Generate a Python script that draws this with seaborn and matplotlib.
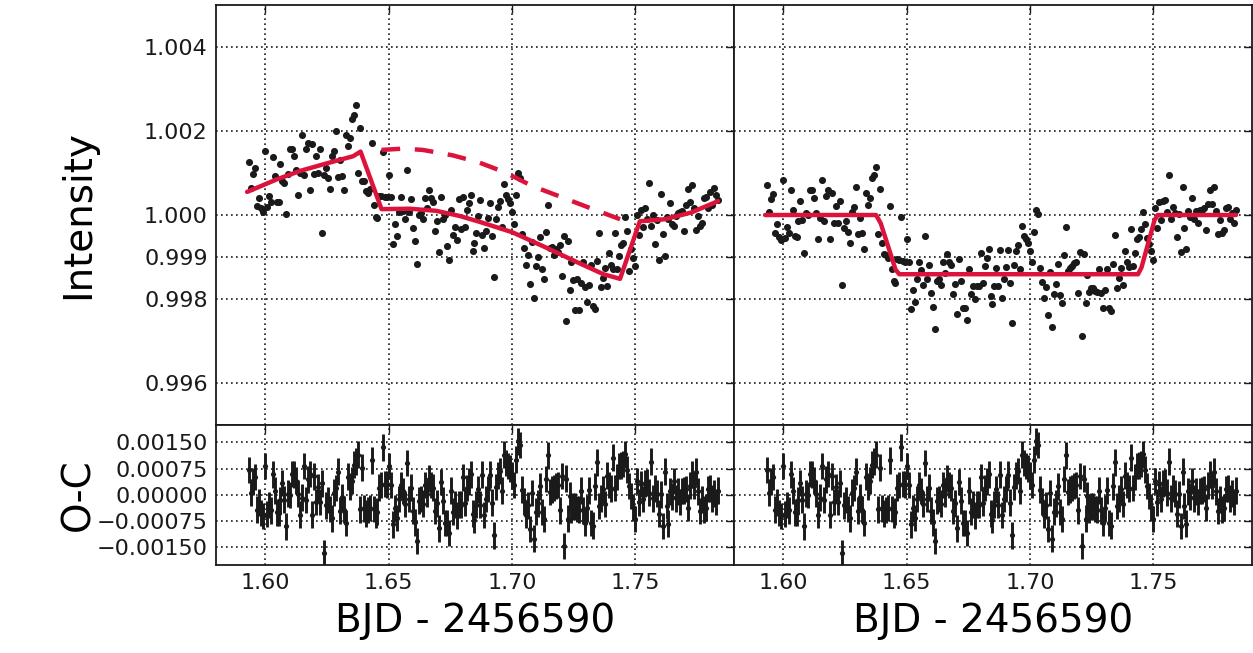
import numpy as np
import pandas as pd
import matplotlib
matplotlib.use("Agg")
import matplotlib.pyplot as plt
from matplotlib.ticker import FuncFormatter
import seaborn as sns

# --- data (flux and residuals in parts per thousand) ---
T_START = 1.5933
T_END = 1.7835

LEFT_FLUX_PPT = [
    1.26, 0.64, 0.97, 1.11, 0.21, 0.41, 0.16, 0.08, 1.53, 0.18,
    0.45, 0.32, 1.37, 0.92, 0.31, 0.30, 1.21, 0.80, 0.77, 0.02,
    0.98, 1.56, 1.56, 1.41, 1.06, 0.48, 0.99, 1.90, 0.96, 1.56,
    1.72, 0.60, 1.70, 0.98, 1.41, 1.01, 1.56, -0.44, 0.95, 1.12,
    0.87, 0.63, 1.40, 1.52, 2.01, 0.90, 1.30, 0.94, 0.60, 1.90,
    1.65, 1.83, 2.29, 2.39, 2.62, 1.01, 2.08, 0.80,
    0.81, 0.57, 0.53, 0.62, 1.72, 0.23, -0.04, -0.06, 0.45, 0.45,
    1.50, 0.44, 0.44, 0.96, 0.44, -0.69, -0.22, -0.50, 0.06, 0.44,
    0.10, -0.10, 1.08, 0.06, 0.37, -0.30, -0.63, -1.16, 0.00, 0.04,
    -0.10, 0.40, 0.16, 0.60, 0.40, 0.32, -0.37, -0.15, -0.87, 0.42,
    -0.09, 0.00, -0.74, -1.06, 0.13, -0.48, -0.29, -0.60, 0.37, -0.33,
    0.44, -0.29, 0.12, 0.29, 0.48, -0.86, -0.67, -0.44, -0.02, 0.36,
    -0.47,
    -0.79, -0.37, -0.08, 0.29, -0.51, -1.47, -0.10, 0.20, 0.33, -0.28,
    0.73, 0.48, 0.39, 0.28, 0.06, -0.22, 0.48, 0.99, 0.87, -0.46,
    -0.79, -1.20, -0.95, -1.65, -0.64, -1.98, -1.22, -1.00, -0.53, -1.29,
    -1.53, -0.40, 0.25, -0.78, -0.75, -0.96, -0.82, -0.88, -0.72, -1.45,
    -0.51, -2.52, -0.63, -1.79, -1.11, -1.55, -2.27, -1.52, -2.26, -1.61,
    -1.12, -1.71, -2.07, -1.67, -1.18, -2.17, -2.23, -1.10, -0.44, -1.71,
    -1.49, -1.25, -1.69, -0.91, -1.19, -1.29, -0.42, -1.29, -0.98, -0.72,
    -0.66, -0.05, -0.37, -1.33, -0.80, -1.03, -1.21, 0.00, -0.47, 0.13,
    -0.28, 0.17, -0.09, 0.77, -0.27, 0.00, -0.70, -0.12, -1.06, 0.51,
    -0.46, -0.98, -0.04, -0.10, 0.29, -0.22, -0.26, -0.02, 0.04, 0.08,
    0.10, -0.38, 0.25, 0.63, 0.31, 0.71, 0.17, -0.35, -0.02, -0.26,
    -0.20, 0.40, 0.43, 0.17, 0.55, 0.25, 0.65, 0.48, 0.35,
]

RIGHT_FLUX_PPT = [
    0.71, 0.07, 0.39, 0.51, -0.42, -0.22, -0.52, -0.60, 0.83, -0.54,
    -0.29, -0.44, 0.59, 0.12, -0.50, -0.52, -0.15, 0.34, -0.13, -0.90,
    0.04, 0.00, 0.60, 0.59, 0.41, 0.04, -0.56, -0.08, 0.83, -0.14,
    0.45, 0.60, -0.56, 0.53, -0.20, 0.22, -0.20, 0.33, -1.67, -0.30,
    -0.14, -0.40, -0.67, 0.07, 0.20, 0.67, -0.45, -0.06, -0.42, -0.80,
    0.52, 0.24, 0.41, 0.87, 0.95, 1.15,
    -0.46, 0.61, -0.67, -0.94, -0.96, -1.02, 0.22, -1.29, -1.57, -1.61,
    -1.04, -1.08, -0.05, -1.10, -1.11, -0.58, -1.12, -2.25, -1.79, -2.07,
    -1.52, -1.13, -1.30, -1.67, -0.50, -1.52, -1.20, -1.86, -2.19, -2.72,
    -1.57, -1.52, -1.66, -1.13, -1.37, -0.94, -1.12, -1.20, -1.87, -1.65,
    -2.36, -1.04, -1.57, -2.21, -2.21, -2.50, -1.29, -1.89, -1.69, -1.99,
    -1.69, -1.69, -0.91, -1.63, -1.21, -1.02, -0.82, -1.94, -2.13, -1.69,
    -1.25, -1.69, -0.83, -1.98, -1.53, -1.24, -0.83, -1.63, -2.56, -1.18,
    -0.86, -0.72, -1.29, -0.26, -0.50, -0.58, -0.66, -0.86, -1.12, -0.40,
    0.12, 0.02, -1.26, -1.59, -1.97, -1.71, -2.38, -1.35, -2.66, -1.89,
    -1.65, -1.16, -1.90, -2.10, -0.95, -0.28,
    -1.33, -1.25, -1.21, -1.15, -1.12, -1.85, -0.87, -2.87, -0.94, -2.09,
    -1.43, -1.83, -1.74, -1.74, -1.81, -1.83, -1.29, -1.85, -2.21, -1.79,
    -1.28, -2.21, -2.29, -1.16, -0.48, -1.73, -1.51, -1.25, -1.67, -0.86,
    -1.13, -1.23, -0.34, -1.21, -0.90, -0.58, -0.52, -0.34, 0.08, -0.22,
    -0.54, -0.68, -0.86, -1.06, 0.17, -0.30, 0.31, -0.11, 0.33, 0.36,
    0.07, 0.95, -0.10, 0.18, 0.04, -0.53, 0.02, -0.89, 0.67, -0.31,
    -0.82, 0.10, -0.05, 0.40, -0.10, 0.10, -0.20, 0.11, 0.13, 0.17,
    -0.36, 0.27, 0.59, 0.27, 0.67, 0.10, -0.46, -0.13, -0.42, -0.36,
    0.17, 0.19, -0.10, 0.05, -0.20, 0.12,
]

RESID_PPT = [
    0.71, 0.07, 0.39, 0.51, -0.42, -0.22, -0.52, -0.60, 0.83, -0.54,
    -0.29, -0.44, 0.59, 0.12, -0.50, -0.52, -0.15, 0.34, -0.13, -0.90,
    0.04, 0.00, 0.60, 0.59, 0.41, 0.04, -0.56, -0.08, 0.83, -0.14,
    0.45, 0.60, -0.56, 0.53, -0.20, 0.22, -0.20, 0.33, -1.67, -0.30,
    -0.14, -0.40, -0.67, 0.07, 0.20, 0.67, -0.45, -0.06, -0.42, -0.80,
    0.52, 0.24, 0.41, 0.87, 0.95, 1.15,
    -0.41, 0.78, -0.38, -0.53, -0.43, -0.37, 0.99, -0.40, -0.56, -0.48,
    0.21, 0.29,
    1.36, 0.31, 0.30, 0.83, 0.29, -0.84, -0.38, -0.66, -0.11, 0.28,
    0.11, -0.26, 0.91, -0.11, 0.21, -0.45, -0.78, -1.31, -0.16, -0.11,
    -0.25, 0.28, 0.04, 0.47, 0.29, 0.21, -0.46, -0.24, -0.95, 0.37,
    -0.16, -0.80, -0.80, -1.09, 0.12, -0.48, -0.28, -0.58, -0.28, -0.28,
    0.50, -0.22, 0.20, 0.39, 0.59, -0.53, -0.72, -0.28, 0.16, -0.28,
    0.58, -0.57, -0.12, 0.17, 0.58, -0.22, -1.15, 0.23, 0.55, 0.69,
    0.12, 1.15, 0.91, 0.83, 0.75, 0.55, 0.29, 1.01, 1.53, 1.43,
    0.15, -0.18, -0.56, -0.30, -0.97, 0.06, -1.25, -0.48, -0.24, 0.25,
    -0.49, -0.69, 0.46, 1.13, 0.08, 0.16, 0.20, 0.26, 0.29, -0.44,
    0.54, -1.46, 0.47, -0.68, -0.02, -0.42, -0.33, -0.33, -0.40, -0.42,
    0.12, -0.44, -0.80, -0.38, 0.13, -0.80, -0.88, 0.25, 0.93, -0.32,
    -0.10, 0.16, -0.26, 0.55, 0.28, 0.18, 1.07, 0.20, 0.51, 0.83,
    0.85, 0.88, 1.16, 0.72, 0.26, -0.03, -0.35, -0.69, 0.40, -0.21,
    0.31, -0.11, 0.33, 0.36, 0.07, 0.95, -0.10, 0.18, 0.04, -0.53,
    0.02, -0.89, 0.67, -0.31, -0.82, 0.10, -0.05, 0.40, -0.10, 0.10,
    -0.20, 0.11, 0.13, 0.17, -0.36, 0.27, 0.59, 0.27, 0.67, 0.10,
    -0.46, -0.13, -0.42, -0.36, 0.17, 0.19, -0.10, 0.05, -0.20, 0.12,
]
RESID_ERR_PPT = 0.38

# model curves (key points of the red lines)
LEFT_MODEL_T = [1.5926, 1.6047, 1.6141, 1.6249, 1.6356, 1.6386, 1.6471, 1.6585,
                1.6692, 1.6786, 1.6867, 1.7001, 1.7136, 1.7270, 1.7371, 1.7438,
                1.7518, 1.7620, 1.7727, 1.7835]
LEFT_MODEL_PPT = [0.55, 0.85, 1.05, 1.23, 1.40, 1.51, 0.14, 0.15,
                  0.10, -0.02, -0.16, -0.41, -0.77, -1.14, -1.41, -1.52,
                  -0.15, -0.10, 0.06, 0.33]
TREND_T = [1.6471, 1.6558, 1.6638, 1.6760, 1.6867, 1.6974, 1.7082, 1.7190,
           1.7310, 1.7438]
TREND_PPT = [1.55, 1.58, 1.55, 1.42, 1.25, 1.01, 0.69, 0.45, 0.18, -0.10]
RIGHT_MODEL_T = [1.5926, 1.6376, 1.6395, 1.6455, 1.6470, 1.7438, 1.7452,
                 1.7505, 1.7518, 1.7835]
RIGHT_MODEL_PPT = [0.0, 0.0, -0.20, -1.30, -1.41, -1.41, -1.25, -0.12, 0.0, 0.0]

X_TICKS = [1.60, 1.65, 1.70, 1.75]
FLUX_TICKS = [0.996, 0.998, 0.999, 1.000, 1.002, 1.004]
RESID_TICKS = [-0.0015, -0.00075, 0.0, 0.00075, 0.0015]
X_LIM = (1.58, 1.79)
FLUX_LIM = (0.995, 1.005)
RESID_LIM = (-0.002, 0.002)

RED = "#dc143c"

sns.set_theme(style="white", rc={
    "text.color": "black", "axes.labelcolor": "black",
    "xtick.color": "black", "ytick.color": "black",
    "axes.edgecolor": "black",
})
plt.rcParams["font.family"] = ["DejaVu Sans"]


def lc_frame(ppt_list):
    t = np.linspace(T_START, T_END, len(ppt_list))
    return pd.DataFrame({"t": t, "v": np.asarray(ppt_list) * 1e-3})


def line_frame(ts, ppts, base=0.0):
    return pd.DataFrame({"t": ts, "v": base + np.asarray(ppts) * 1e-3})


def style_axis(ax):
    ax.set_xlim(*X_LIM)
    ax.set_axisbelow(True)
    ax.grid(True, linestyle=(0, (1, 2)), color="k", linewidth=1.2)
    ax.tick_params(direction="in", top=True, right=True, length=6, width=1,
                   labelsize=16, pad=6, colors="k")
    for s in ax.spines.values():
        s.set_linewidth(1.3)
        s.set_color("k")
    ax.set_xticks(X_TICKS)
    ax.xaxis.set_major_formatter(FuncFormatter(lambda v, p: f"{v:.2f}"))


def resid_fmt(v, p):
    return f"{v:.5f}".replace("-", "\u2212")


fig = plt.figure(figsize=(12.53, 6.53), dpi=100)
gs = fig.add_gridspec(2, 2, height_ratios=[3, 1], left=0.1724, right=0.9992,
                      top=0.9923, bottom=0.1348, wspace=0, hspace=0)
ax_tl = fig.add_subplot(gs[0, 0])
ax_tr = fig.add_subplot(gs[0, 1])
ax_bl = fig.add_subplot(gs[1, 0])
ax_br = fig.add_subplot(gs[1, 1])

left_df = lc_frame(LEFT_FLUX_PPT)
left_df["v"] += 1.0
right_df = lc_frame(RIGHT_FLUX_PPT)
right_df["v"] += 1.0
resid_df = lc_frame(RESID_PPT)

# top panels
for ax, df in [(ax_tl, left_df), (ax_tr, right_df)]:
    sns.scatterplot(data=df, x="t", y="v", ax=ax, color="k", s=26,
                    linewidth=0, zorder=2)

sns.lineplot(data=line_frame(LEFT_MODEL_T, LEFT_MODEL_PPT, 1.0), x="t", y="v",
             ax=ax_tl, color=RED, linewidth=3.2, sort=False, estimator=None,
             zorder=3)
sns.lineplot(data=line_frame(TREND_T, TREND_PPT, 1.0), x="t", y="v",
             ax=ax_tl, color=RED, linewidth=3.2, sort=False, estimator=None,
             zorder=3)
ax_tl.lines[-1].set_dashes((4.2, 3.3))
sns.lineplot(data=line_frame(RIGHT_MODEL_T, RIGHT_MODEL_PPT, 1.0), x="t", y="v",
             ax=ax_tr, color=RED, linewidth=3.2, sort=False, estimator=None,
             zorder=3)

# residual panels
for ax in (ax_bl, ax_br):
    ax.errorbar(resid_df["t"], resid_df["v"], yerr=RESID_ERR_PPT * 1e-3,
                fmt="none", ecolor="k", elinewidth=2.1, capsize=0, zorder=2)
    sns.scatterplot(data=resid_df, x="t", y="v", ax=ax, color="k", s=14,
                    linewidth=0, zorder=3)

for ax in (ax_tl, ax_tr, ax_bl, ax_br):
    style_axis(ax)

for ax in (ax_tl, ax_tr):
    ax.set_ylim(*FLUX_LIM)
    ax.set_yticks(FLUX_TICKS)
    ax.yaxis.set_major_formatter(FuncFormatter(lambda v, p: f"{v:.3f}"))
    ax.tick_params(labelbottom=False)
    ax.set_xlabel("")
for ax in (ax_bl, ax_br):
    ax.set_ylim(*RESID_LIM)
    ax.set_yticks(RESID_TICKS)
    ax.yaxis.set_major_formatter(FuncFormatter(resid_fmt))
    ax.set_xlabel("BJD - 2456590", fontsize=28, labelpad=6)
for ax in (ax_tr, ax_br):
    ax.tick_params(labelleft=False)
    ax.set_ylabel("")

ax_tl.set_ylabel("Intensity", fontsize=28)
ax_bl.set_ylabel("O-C", fontsize=28)
ax_tl.yaxis.set_label_coords(-0.23, 0.5)
ax_bl.yaxis.set_label_coords(-0.23, 0.5)

fig.savefig("out.png", dpi=100)
